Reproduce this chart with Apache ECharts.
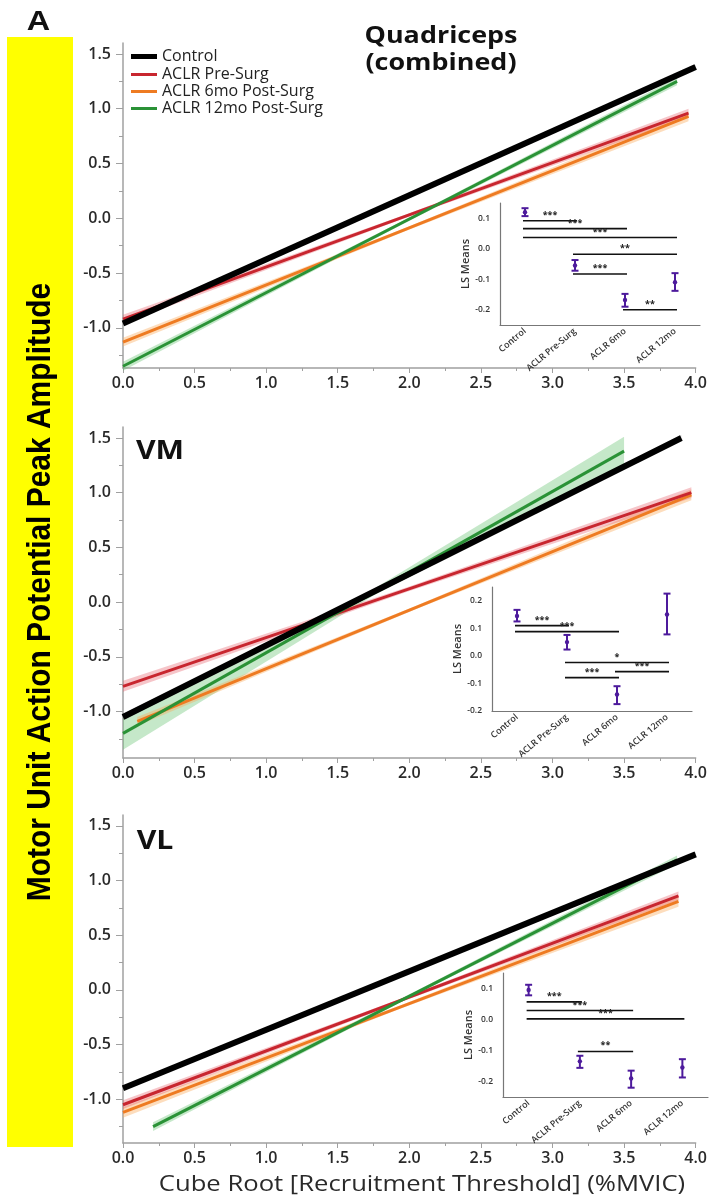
<!DOCTYPE html>
<html><head><meta charset="utf-8">
<script src="https://cdn.jsdelivr.net/npm/echarts@6/dist/echarts.min.js"></script>
<style>html,body{margin:0;padding:0;background:#fff}#c{width:710px;height:1199px}</style>
</head><body><div id="c"></div>
<script>
// ---------- DATA ----------
const groups = ['Control', 'ACLR Pre-Surg', 'ACLR 6mo Post-Surg', 'ACLR 12mo Post-Surg'];
const insetCats = ['Control', 'ACLR Pre-Surg', 'ACLR 6mo', 'ACLR 12mo'];
const panelTitles = ['Quadriceps\n(combined)', 'VM', 'VL'];
const xAxisTitle = 'Cube Root [Recruitment Threshold] (%MVIC)';
const yAxisTitle = 'Motor Unit Action Potential Peak Amplitude';
const panelLetter = 'A';
const yTicksMain = [-1, -0.5, 0, 0.5, 1, 1.5];
const yMinorMain = [-1.25, -0.75, -0.25, 0.25, 0.75, 1.25];

// regression lines: [xStart, yStart, xEnd, yEnd] per group (Control, Pre, 6mo, 12mo)
const quadLines = [[0, -0.96, 4.0, 1.38], [0, -0.92, 3.95, 0.96], [0, -1.13, 3.95, 0.93], [0, -1.35, 3.87, 1.25]];
const vmLines   = [[0, -1.05, 3.9, 1.50], [0, -0.77, 3.97, 1.00], [0.1, -1.09, 3.97, 0.98], [0, -1.20, 3.5, 1.38]];
const vlLines   = [[0, -0.90, 4.0, 1.24], [0, -1.05, 3.88, 0.86], [0, -1.12, 3.88, 0.81], [0.21, -1.25, 3.87, 1.19]];
// confidence band half-widths at start / middle / end of each line
const quadBands = [[0.02, 0.01, 0.02], [0.04, 0.015, 0.04], [0.04, 0.015, 0.045], [0.04, 0.015, 0.035]];
const vmBands   = [[0.03, 0.01, 0.03], [0.05, 0.02, 0.05], [0.04, 0.015, 0.05], [0.15, 0.03, 0.13]];
const vlBands   = [[0.02, 0.01, 0.02], [0.04, 0.015, 0.04], [0.05, 0.015, 0.05], [0.04, 0.015, 0.04]];

// inset LS means: mean, lower, upper
const quadMeans = [0.12, -0.055, -0.168, -0.11];
const quadLo    = [0.107, -0.072, -0.19, -0.138];
const quadHi    = [0.133, -0.037, -0.148, -0.08];
const vmMeans = [0.145, 0.05, -0.14, 0.15];
const vmLo    = [0.125, 0.023, -0.175, 0.078];
const vmHi    = [0.167, 0.076, -0.11, 0.226];
const vlMeans = [0.095, -0.135, -0.19, -0.155];
const vlLo    = [0.078, -0.156, -0.22, -0.187];
const vlHi    = [0.112, -0.117, -0.165, -0.128];
// significance bars: [fromIdx, toIdx, y]
const quadSig = [[0, 1, 0.092], [0, 2, 0.066], [0, 3, 0.037], [1, 3, -0.018], [1, 2, -0.083], [2, 3, -0.2]];
const quadSigLabels = ['***', '***', '***', '**', '***', '**'];
const vmSig = [[0, 1, 0.11], [0, 2, 0.088], [1, 3, -0.024], [2, 3, -0.057], [1, 2, -0.079]];
const vmSigLabels = ['***', '***', '*', '***', '***'];
const vlSig = [[0, 1, 0.057], [0, 2, 0.029], [0, 3, 0.002], [1, 2, -0.103]];
const vlSigLabels = ['***', '***', '***', '**'];
const insetYTicks = [[-0.2, -0.1, 0, 0.1], [-0.2, -0.1, 0, 0.1, 0.2], [-0.2, -0.1, 0, 0.1]];

// ---------- STYLE ----------
const colors = ['#000000', '#c8262f', '#ee7b22', '#2a9236'];
const bandColors = ['rgba(0,0,0,0.15)', 'rgba(230,90,100,0.35)', 'rgba(250,170,90,0.4)', 'rgba(90,190,100,0.35)'];
const widths = [6, 3, 3, 3];
const PURPLE = '#4d1a9c';
const FONT = '"Open Sans", "DejaVu Sans", sans-serif';
const ARIAL = '"Liberation Sans", Arial, sans-serif';
const AXC = '#a0a0a0';

const mainGrids = [
  {left: 123, right: 9, top: 43, height: 325, min: -1.366, max: 1.6},
  {left: 123, right: 9, top: 427, height: 331, min: -1.425, max: 1.6},
  {left: 123, right: 9, top: 815, height: 328, min: -1.40, max: 1.6}
];
const insetGrids = [
  {left: 500, top: 203, width: 200, height: 122, min: -0.25, max: 0.15},
  {left: 492, top: 587, width: 200, height: 124, min: -0.2, max: 0.25},
  {left: 503, top: 973, width: 205, height: 124, min: -0.25, max: 0.15}
];

const allLines = [quadLines, vmLines, vlLines];
const allBands = [quadBands, vmBands, vlBands];
const allMeans = [[quadMeans, quadLo, quadHi], [vmMeans, vmLo, vmHi], [vlMeans, vlLo, vlHi]];
const allSig = [[quadSig, quadSigLabels], [vmSig, vmSigLabels], [vlSig, vlSigLabels]];

const grid = [], xAxis = [], yAxis = [], series = [];
mainGrids.forEach((g, p) => {
  grid.push({left: g.left, right: g.right, top: g.top, height: g.height});
  xAxis.push({
    type: 'value', gridIndex: p, min: 0, max: 4, interval: 0.5,
    axisLine: {show: true, onZero: false, lineStyle: {color: AXC, width: 1.5}},
    axisTick: {show: true, length: 5, lineStyle: {color: AXC}},
    minorTick: {show: true, splitNumber: 2, length: 3, lineStyle: {color: AXC}},
    splitLine: {show: false},
    axisLabel: {fontSize: 16, fontWeight: 600, color: '#2a2a2a', fontFamily: FONT, margin: 7,
      formatter: v => v.toFixed(1)}
  });
  yAxis.push({
    type: 'value', gridIndex: p, min: g.min, max: g.max, position: 'left',
    axisLine: {show: true, onZero: false, lineStyle: {color: AXC, width: 1.5}},
    axisTick: {show: true, length: 7, customValues: yTicksMain, lineStyle: {color: AXC}},
    splitLine: {show: false},
    axisLabel: {fontSize: 16, fontWeight: 600, color: '#2a2a2a', fontFamily: FONT, margin: 12,
      customValues: yTicksMain, formatter: v => v.toFixed(1)}
  });
});
mainGrids.forEach((g, p) => {
  yAxis.push({
    type: 'value', gridIndex: p, min: g.min, max: g.max, position: 'left',
    axisLine: {show: false},
    axisTick: {show: true, length: 4, customValues: yMinorMain, lineStyle: {color: AXC}},
    splitLine: {show: false},
    axisLabel: {show: false}
  });
});
insetGrids.forEach((g, k) => {
  const gi = 3 + k;
  grid.push({left: g.left, top: g.top, width: g.width, height: g.height});
  xAxis.push({
    type: 'category', gridIndex: gi, data: insetCats, boundaryGap: true,
    axisLine: {show: true, onZero: false, lineStyle: {color: '#777', width: 1.2}},
    axisTick: {show: false},
    axisLabel: {rotate: 40, interval: 0, fontSize: 9, fontWeight: 600, color: '#333', fontFamily: FONT, margin: 5}
  });
  yAxis.push({
    type: 'value', gridIndex: gi, min: g.min, max: g.max,
    axisLine: {show: true, onZero: false, lineStyle: {color: '#777', width: 1.2}},
    axisTick: {show: false},
    splitLine: {show: false},
    axisLabel: {fontSize: 8.5, fontWeight: 600, color: '#333', fontFamily: FONT, margin: 10,
      customValues: insetYTicks[k], formatter: v => v.toFixed(1)},
    name: 'LS Means', nameLocation: 'middle', nameGap: 27,
    nameTextStyle: {fontSize: 11, fontWeight: 600, color: '#333', fontFamily: FONT}
  });
});

// main panel series
allLines.forEach((lines, p) => {
  const bands = allBands[p];
  [3, 2, 1, 0].forEach(gIdx => {
    const L = lines[gIdx], B = bands[gIdx];
    series.push({
      type: 'custom', xAxisIndex: p, yAxisIndex: p, silent: true, z: 1,
      data: [[L[0], L[1]]],
      renderItem: (params, api) => {
        const x0 = L[0], y0 = L[1], x1 = L[2], y1 = L[3];
        const xm = (x0 + x1) / 2, ym = (y0 + y1) / 2;
        const top = [[x0, y0 + B[0]], [xm, ym + B[1]], [x1, y1 + B[2]]];
        const bot = [[x1, y1 - B[2]], [xm, ym - B[1]], [x0, y0 - B[0]]];
        const pts = top.concat(bot).map(q => api.coord(q));
        return {type: 'polygon', shape: {points: pts}, style: {fill: bandColors[gIdx]}};
      }
    });
  });
  [2, 1, 3, 0].forEach(gIdx => {
    const L = lines[gIdx];
    series.push({
      type: 'line', name: groups[gIdx], xAxisIndex: p, yAxisIndex: p,
      data: [[L[0], L[1]], [L[2], L[3]]],
      showSymbol: false, symbol: 'none', z: 3,
      color: colors[gIdx],
      lineStyle: {color: colors[gIdx], width: widths[gIdx], cap: 'butt'},
      itemStyle: {color: colors[gIdx]}
    });
  });
});

// inset series
allMeans.forEach((M, k) => {
  const gi = 3 + k;
  const yi = 6 + k;
  const data = M[0].map((m, i) => [i, m, M[1][i], M[2][i]]);
  series.push({
    type: 'custom', xAxisIndex: gi, yAxisIndex: yi, silent: true, z: 5,
    data: data,
    encode: {x: 0, y: [1, 2, 3]},
    renderItem: (params, api) => {
      const x = api.value(0);
      const pM = api.coord([x, api.value(1)]);
      const pLo = api.coord([x, api.value(2)]);
      const pHi = api.coord([x, api.value(3)]);
      const c = 3.5;
      const st = {stroke: PURPLE, lineWidth: 2};
      return {type: 'group', children: [
        {type: 'line', shape: {x1: pLo[0], y1: pLo[1], x2: pHi[0], y2: pHi[1]}, style: st},
        {type: 'line', shape: {x1: pLo[0] - c, y1: pLo[1], x2: pLo[0] + c, y2: pLo[1]}, style: st},
        {type: 'line', shape: {x1: pHi[0] - c, y1: pHi[1], x2: pHi[0] + c, y2: pHi[1]}, style: st},
        {type: 'circle', shape: {cx: pM[0], cy: pM[1], r: 2.2}, style: {fill: PURPLE}}
      ]};
    }
  });
  const sig = allSig[k][0], labels = allSig[k][1];
  series.push({
    type: 'custom', xAxisIndex: gi, yAxisIndex: yi, silent: true, z: 4,
    data: sig.map(s => [s[0], s[2], s[1]]),
    encode: {x: 0, y: 1},
    renderItem: (params, api) => {
      const s = sig[params.dataIndex];
      const a = api.coord([s[0], s[2]]);
      const b = api.coord([s[1], s[2]]);
      return {type: 'group', children: [
        {type: 'line', shape: {x1: a[0] - 2, y1: a[1], x2: b[0] + 2, y2: b[1]}, style: {stroke: '#111', lineWidth: 1.6}},
        {type: 'text', x: (a[0] + b[0]) / 2, y: a[1] - 1, style: {text: labels[params.dataIndex],
          fontSize: 9, fontWeight: 'bold', fill: '#222', align: 'center', verticalAlign: 'bottom', fontFamily: FONT}}
      ]};
    }
  });
});

const option = {
  animation: false,
  backgroundColor: '#ffffff',
  legend: [
    {data: [groups[0]], left: 131, top: 48, orient: 'vertical', icon: 'rect', itemWidth: 26, itemHeight: 5,
      itemGap: 0, padding: 0, textStyle: {fontSize: 16, color: '#222', fontFamily: FONT, lineHeight: 17}},
    {data: groups.slice(1), left: 131, top: 66, orient: 'vertical', icon: 'rect', itemWidth: 26, itemHeight: 3,
      itemGap: 0, padding: 0, textStyle: {fontSize: 16, color: '#222', fontFamily: FONT, lineHeight: 17}}
  ],
  graphic: [
    {type: 'rect', shape: {x: 7, y: 37, width: 66, height: 1110}, style: {fill: '#ffff00'}, z: 0},
    {type: 'text', x: 41, y: 592, rotation: Math.PI / 2, scaleX: 0.88, z: 1,
      style: {text: yAxisTitle, fontSize: 34, fontWeight: 'bold',
        fontFamily: ARIAL, fill: '#000', align: 'center', verticalAlign: 'middle'}},
    {type: 'text', x: 38.5, y: 23, scaleX: 1.2, z: 1,
      style: {text: panelLetter, fontSize: 27, fontWeight: 'bold', fontFamily: ARIAL, fill: '#111',
        align: 'center', verticalAlign: 'middle'}},
    {type: 'text', x: 441, y: 23, scaleX: 1.17, z: 1,
      style: {text: panelTitles[0], fontSize: 23, fontWeight: 'bold', fontFamily: FONT, fill: '#111',
        align: 'center', verticalAlign: 'top', lineHeight: 27}},
    {type: 'text', x: 160, y: 451, scaleX: 1.12, z: 1,
      style: {text: panelTitles[1], fontSize: 27, fontWeight: 'bold', fontFamily: FONT, fill: '#111',
        align: 'center', verticalAlign: 'middle'}},
    {type: 'text', x: 155, y: 841, scaleX: 1.12, z: 1,
      style: {text: panelTitles[2], fontSize: 27, fontWeight: 'bold', fontFamily: FONT, fill: '#111',
        align: 'center', verticalAlign: 'middle'}},
    {type: 'text', x: 422, y: 1185, scaleX: 1.22, z: 1,
      style: {text: xAxisTitle, fontSize: 21, fontFamily: FONT, fill: '#2a2a2a',
        align: 'center', verticalAlign: 'middle'}}
  ],
  grid: grid, xAxis: xAxis, yAxis: yAxis, series: series
};
const chart = echarts.init(document.getElementById('c'), null, {renderer: 'canvas'});
chart.setOption(option);
</script></body></html>
